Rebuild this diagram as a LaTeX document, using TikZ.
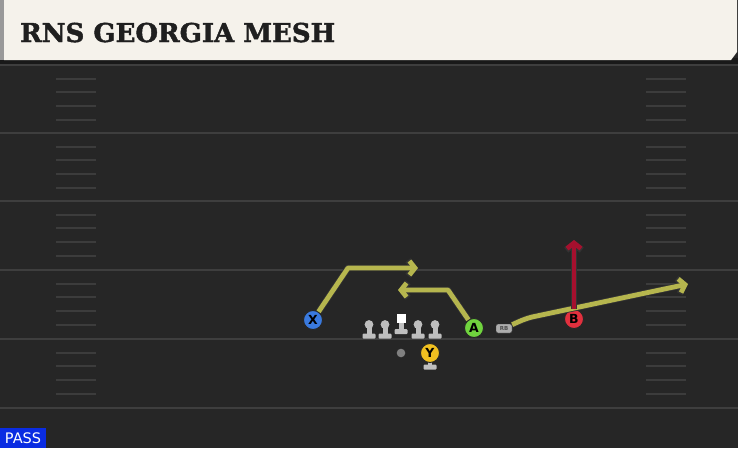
\documentclass[tikz,border=0pt]{standalone}
\usepackage{fontspec}
\setsansfont{DejaVu Sans}
\newfontfamily\titlefont[BoldFeatures={FakeBold=1.6}]{DejaVu Serif}
\usetikzlibrary{arrows.meta}
\definecolor{field}{RGB}{38,38,38}
\definecolor{yardline}{RGB}{62,62,62}
\definecolor{hashmark}{RGB}{60,60,60}
\definecolor{cream}{RGB}{245,242,235}
\definecolor{xblue}{RGB}{58,122,222}
\definecolor{agreen}{RGB}{112,212,62}
\definecolor{bred}{RGB}{226,48,62}
\definecolor{yyellow}{RGB}{240,192,32}
\definecolor{linegray}{RGB}{190,190,190}
\definecolor{routeyellow}{RGB}{182,182,78}
\definecolor{routered}{RGB}{165,16,46}
\definecolor{passblue}{RGB}{10,44,226}
\tikzset{
  player/.style={circle,draw=black!85,line width=0.9pt,minimum size=19pt,inner sep=0pt,
    font=\sffamily\bfseries\fontsize{12.5}{12.5}\selectfont},
  route/.style={draw=routeyellow,line width=4.8pt,line join=round,
    -{Straight Barb[length=5.5pt,width=14pt]},
    preaction={draw=black!80,line width=6.4pt,-{Straight Barb[length=6pt,width=15.5pt]}}},
  redroute/.style={route,draw=routered}
}
\begin{document}
\begin{tikzpicture}[x=1pt,y=-1pt]
  \useasboundingbox (0,0) rectangle (738,448);
  \fill[field] (0,0) rectangle (738,448);
  \foreach \y in {65,133,201,270,339,408}
    \draw[yardline,line width=2.4pt] (0,\y) -- (738,\y);
  \foreach \y in {65,133,201,270,339}
    \foreach \k in {1,...,4}{
      \draw[hashmark,line width=2pt] (56,\y+13.7*\k) -- (96,\y+13.7*\k);
      \draw[hashmark,line width=2pt] (646,\y+13.7*\k) -- (686,\y+13.7*\k);
    }
  \fill[black!90] (0,58) rectangle (738,64);
  \fill[black!40] (0,0) rectangle (4,60);
  \fill[cream] (4,0) -- (737,0) -- (737,52) -- (731,60) -- (4,60) -- cycle;
  \node[anchor=base west,inner sep=0pt,text=black!88,
    font=\titlefont\bfseries\fontsize{26}{26}\selectfont] (title) at (20,42) {RNS GEORGIA MESH};
  \fill[passblue] (0,428) rectangle (46,448);
  \node[text=white,inner sep=0pt,font=\sffamily\fontsize{14.5}{14.5}\selectfont] (pass) at (23,438.5) {PASS};
  \foreach \x in {369,385,418,435}{
    \fill[linegray] (\x,324.5) circle (4.4);
    \fill[linegray] (\x-2.5,325) rectangle (\x+2.5,335);
    \fill[linegray,rounded corners=1pt] (\x-6.5,333.5) rectangle (\x+6.5,338.5);
  }
  \fill[white] (396.5,314) rectangle (405.5,323);
  \fill[linegray] (398.5,323) rectangle (403.5,331);
  \fill[linegray,rounded corners=1pt] (394.5,329) rectangle (407.5,334);
  \fill[black!50] (401,353) circle (4.3);
  \fill[linegray] (428,358) rectangle (432,366);
  \fill[linegray,rounded corners=1pt] (423.5,364.5) rectangle (436.5,369.5);
  \node[player,fill=xblue] (X) at (313,320) {X};
  \node[player,fill=agreen] (A) at (474,328) {A};
  \node[player,fill=yyellow] (Y) at (430,353) {Y};
  \node[player,fill=bred] (B) at (574,319) {B};
  \node[draw=black!80,fill=black!32,rounded corners=2pt,minimum width=16pt,minimum height=9pt,
    inner sep=0pt,font=\sffamily\bfseries\fontsize{5.5}{5.5}\selectfont,text=black!70] (RB) at (504,328.5) {RB};
  \coordinate (Xbend) at (348,268);
  \coordinate (Xend) at (418,268);
  \coordinate (Abend) at (448,290);
  \coordinate (Aend) at (398,290);
  \coordinate (RBbend) at (532,317);
  \coordinate (RBend) at (688,284);
  \coordinate (Bend) at (574,240);
  \draw[route] (X) -- (Xbend) -- (Xend);
  \draw[route] (A) -- (Abend) -- (Aend);
  \draw[route] (RB) to[out=25,in=195] (RBbend) -- (RBend);
  \draw[redroute] (B) -- (Bend);
\end{tikzpicture}
\end{document}
